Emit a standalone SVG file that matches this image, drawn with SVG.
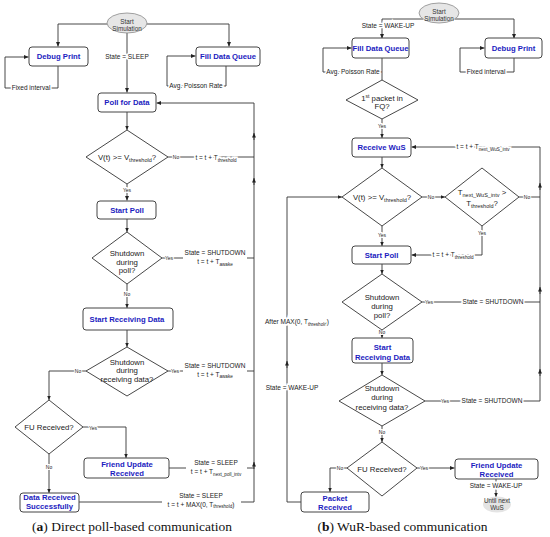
<svg xmlns="http://www.w3.org/2000/svg" width="550" height="537" viewBox="0 0 550 537">
<defs>
<marker id="ar" viewBox="0 0 8 8" refX="8" refY="4" markerWidth="4.5" markerHeight="4.5" orient="auto" markerUnits="userSpaceOnUse"><path d="M0,0.5 L8,4 L0,7.5 Z" fill="#222"/></marker>
<style>
.box{fill:#fff;stroke:#444;stroke-width:1}
.dia{fill:#fff;stroke:#333;stroke-width:0.9}
.ell{fill:#e6e6e6;stroke:#8a8a8a;stroke-width:0.8}
.e{fill:none;stroke:#333;stroke-width:0.9}
.ea{fill:none;stroke:#333;stroke-width:0.9;marker-end:url(#ar)}
text{font-family:"Liberation Sans",Arial,sans-serif}
.nt{font-size:7.7px;font-weight:bold;fill:#1c1cc0;text-anchor:middle}
.dt{font-size:7.8px;fill:#222;text-anchor:middle}
.lb{font-size:6.5px;fill:#222;text-anchor:middle}
.bg{stroke:#fff;stroke-width:3;paint-order:stroke}
.yn{font-size:5px;fill:#222;text-anchor:middle;stroke:#fff;stroke-width:2;paint-order:stroke}
.st{font-size:6.3px;fill:#333;text-anchor:middle}
.cap{font-family:"Liberation Serif","Times New Roman",serif;font-size:13.5px;fill:#111;text-anchor:middle}
.wb{fill:#fff}
</style>
</defs>
<g id="connectors">
<!-- (a) -->
<path class="ea" d="M107,24 H58 V46.5"/>
<path class="ea" d="M147,24 H229 V46.5"/>
<path class="ea" d="M127,33 V92.5"/>
<path class="ea" d="M58,66 V88 H5 V57 H28.5"/>
<path class="ea" d="M226,66 V86 H167 V56 H195.5"/>
<path class="ea" d="M127,112 V130"/>
<path class="e" d="M168,157 H254"/>
<path class="ea" d="M127,184 V200.5"/>
<path class="ea" d="M127,219 V232"/>
<path class="e" d="M162,258 H254"/>
<path class="ea" d="M127,284 V308"/>
<path class="ea" d="M127,330 V347"/>
<path class="e" d="M168,371 H254"/>
<path class="ea" d="M86,371 H49 V400"/>
<path class="ea" d="M83,427 H126 V458"/>
<path class="ea" d="M49,454 V493"/>
<path class="e" d="M169,468 H254"/>
<path class="ea" d="M79,502 H254 V103 H156.5"/>
<path class="ea" d="M254,140 V133"/>
<path class="ea" d="M254,185 V178"/>
<path class="ea" d="M254,469 V462"/>
<!-- (b) -->
<path class="ea" d="M423,19 H382 V38.5"/>
<path class="ea" d="M455,19 H514 V38.5"/>
<path class="ea" d="M514,58 V72 H460 V48 H484.5"/>
<path class="e" d="M382,58 V80"/>
<path class="ea" d="M382,72 H323 V48 H351.5"/>
<path class="ea" d="M382,119 V138"/>
<path class="ea" d="M540,401 V147 H411.5"/>
<path class="ea" d="M540,190 V183"/>
<path class="ea" d="M540,294 V287"/>
<path class="ea" d="M540,376 V369"/>
<path class="ea" d="M382,157 V168"/>
<path class="ea" d="M422,197 H445"/>
<path class="e" d="M519,197 H540"/>
<path class="ea" d="M482,226 V255 H411.5"/>
<path class="ea" d="M382,226 V246"/>
<path class="ea" d="M382,264 V274"/>
<path class="e" d="M422,302 H540"/>
<path class="ea" d="M382,330 V338"/>
<path class="ea" d="M382,363 V375"/>
<path class="e" d="M425,401 H540"/>
<path class="ea" d="M382,426 V442"/>
<path class="ea" d="M417,468 H454.5"/>
<path class="ea" d="M347,468 H330 V492"/>
<path class="ea" d="M301,502 H287 V197 H342"/>
<path class="ea" d="M287,368 V361"/>
<path class="ea" d="M496,479 V497"/>
<!-- labels (a) -->
<text class="lb bg" x="127" y="59.3">State = SLEEP</text>
<text class="lb bg" x="31" y="90.3">Fixed interval</text>
<text class="lb bg" x="196" y="88.3">Avg. Poisson Rate</text>
<text class="yn" x="176" y="158.8">No</text>
<text class="lb bg" x="216" y="160.3">t = t + T<tspan font-size="4.6" dy="1.5">threshold</tspan></text>
<text class="yn" x="127" y="191.8">Yes</text>
<text class="yn" x="169" y="259.8">Yes</text>
<rect class="wb" x="183" y="248" width="64" height="19"/>
<text class="lb" x="215" y="255.3">State = SHUTDOWN</text>
<text class="lb" x="215" y="264.3">t = t + T<tspan font-size="4.6" dy="1.5">awake</tspan></text>
<text class="yn" x="127" y="295.8">No</text>
<text class="yn" x="175" y="372.8">Yes</text>
<rect class="wb" x="183" y="361" width="64" height="19"/>
<text class="lb" x="215" y="368.3">State = SHUTDOWN</text>
<text class="lb" x="215" y="376.8">t = t + T<tspan font-size="4.6" dy="1.5">awake</tspan></text>
<text class="yn" x="78" y="372.8">No</text>
<text class="yn" x="93" y="429.8">Yes</text>
<text class="yn" x="49" y="468.8">No</text>
<rect class="wb" x="186" y="458" width="61" height="19"/>
<text class="lb" x="216" y="465.3">State = SLEEP</text>
<text class="lb" x="216" y="474.3">t = t + T<tspan font-size="4.6" dy="1.5">next_poll_intv</tspan></text>
<rect class="wb" x="162" y="491" width="79" height="18"/>
<text class="lb" x="201" y="498.3">State = SLEEP</text>
<text class="lb" x="201" y="506.5">t = t + MAX(0, T<tspan font-size="4.6" dy="1.5">threshold</tspan><tspan dy="-1.5">)</tspan></text>
<!-- labels (b) -->
<text class="lb bg" x="388" y="28.3">State = WAKE-UP</text>
<text class="lb bg" x="353" y="74.3">Avg. Poisson Rate</text>
<text class="lb bg" x="486" y="74.3">Fixed interval</text>
<text class="yn" x="382" y="127.8">Yes</text>
<text class="lb bg" x="483" y="149.3">t = t + T<tspan font-size="4.6" dy="1.5">next_WuS_intv</tspan></text>
<text class="yn" x="431" y="198.8">No</text>
<text class="yn" x="527" y="198.8">No</text>
<text class="yn" x="482" y="234.8">Yes</text>
<text class="lb bg" x="453" y="257.3">t = t + T<tspan font-size="4.6" dy="1.5">threshold</tspan></text>
<text class="yn" x="382" y="236.8">Yes</text>
<text class="yn" x="429" y="303.8">Yes</text>
<text class="lb bg" x="493" y="304.3">State = SHUTDOWN</text>
<text class="yn" x="382" y="333.8">No</text>
<text class="yn" x="445" y="402.8">Yes</text>
<text class="lb bg" x="492" y="403.3">State = SHUTDOWN</text>
<text class="yn" x="382" y="433.8">No</text>
<text class="yn" x="424" y="469.8">Yes</text>
<text class="yn" x="340" y="469.8">No</text>
<text class="lb bg" x="297" y="324.3">After MAX(0, T<tspan font-size="4.6" dy="1.5">threshold</tspan><tspan dy="-1.5">)</tspan></text>
<text class="lb bg" x="292" y="390.3">State = WAKE-UP</text>
<text class="lb bg" x="496" y="488.3">State = WAKE-UP</text>
</g>
<!-- (a) nodes -->
<g id="a-start"><ellipse class="ell" cx="127" cy="23" rx="20" ry="10"/><text class="st" x="127" y="23.6">Start</text><text class="st" x="127" y="31.4">Simulation</text></g>
<g id="a-debug"><rect class="box" x="29" y="47" width="59" height="19" rx="3"/><text class="nt" x="58.5" y="59.2">Debug Print</text></g>
<g id="a-fill"><rect class="box" x="196" y="47" width="64" height="19" rx="3"/><text class="nt" x="228" y="59.2">Fill Data Queue</text></g>
<g id="a-poll"><rect class="box" x="98" y="93" width="58" height="19" rx="3"/><text class="nt" x="127" y="105.2">Poll for Data</text></g>
<g id="a-vcheck"><polygon class="dia" points="127,130 168,157 127,184 86,157"/><text class="dt" x="127" y="160">V(t) &gt;= V<tspan font-size="5.5" dy="2">threshold</tspan><tspan dy="-2">?</tspan></text></g>
<g id="a-startpoll"><rect class="box" x="97" y="201" width="59" height="18" rx="3"/><text class="nt" x="127" y="212.7">Start Poll</text></g>
<g id="a-sdpoll"><polygon class="dia" points="127,232 162,258 127,284 92,258"/><text class="dt" x="127" y="256.2">Shutdown</text><text class="dt" x="127" y="264.7">during</text><text class="dt" x="127" y="273.2">poll?</text></g>
<g id="a-recv"><rect class="box" x="83" y="308" width="90" height="22" rx="3"/><text class="nt" x="127" y="321.7">Start Receiving Data</text></g>
<g id="a-sdrecv"><polygon class="dia" points="127,347 168,371 127,396 86,371"/><text class="dt" x="127" y="364.7">Shutdown</text><text class="dt" x="127" y="373.2">during</text><text class="dt" x="127" y="381.7">receiving data?</text></g>
<g id="a-fu"><polygon class="dia" points="49,400 83,427 49,454 15,427"/><text class="dt" x="49" y="429.7">FU Received?</text></g>
<g id="a-fur"><rect class="box" x="84" y="458" width="85" height="20" rx="3"/><text class="nt" x="127" y="466.7">Friend Update</text><text class="nt" x="127" y="475.7">Received</text></g>
<g id="a-drs"><rect class="box" x="20" y="493" width="59" height="19" rx="3"/><text class="nt" x="49.5" y="500.4">Data Received</text><text class="nt" x="49.5" y="509.4">Successfully</text></g>
<!-- (b) nodes -->
<g id="b-start"><ellipse class="ell" cx="439" cy="13" rx="20" ry="10"/><text class="st" x="439" y="13.6">Start</text><text class="st" x="439" y="21.4">Simulation</text></g>
<g id="b-fill"><rect class="box" x="352" y="38" width="57" height="20" rx="3"/><text class="nt" x="380.5" y="50.7">Fill Data Queue</text></g>
<g id="b-debug"><rect class="box" x="485" y="38" width="57" height="20" rx="3"/><text class="nt" x="513.5" y="50.7">Debug Print</text></g>
<g id="b-first"><polygon class="dia" points="382,80 418,100 382,119 346,100"/><text class="dt" x="382" y="100.5">1<tspan font-size="5" dy="-3">st</tspan><tspan dy="3"> packet in</tspan></text><text class="dt" x="382" y="109.2">FQ?</text></g>
<g id="b-wus"><rect class="box" x="352" y="138" width="59" height="19" rx="3"/><text class="nt" x="381.5" y="150.2">Receive WuS</text></g>
<g id="b-vcheck"><polygon class="dia" points="382,168 422,197 382,226 342,197"/><text class="dt" x="382" y="199.5">V(t) &gt;= V<tspan font-size="5.5" dy="2">threshold</tspan><tspan dy="-2">?</tspan></text></g>
<g id="b-tcheck"><polygon class="dia" points="482,168 519,197 482,226 445,197"/><text class="dt" x="482" y="195">T<tspan font-size="5.5" dy="2">next_WuS_intv</tspan><tspan dy="-2"> &gt;</tspan></text><text class="dt" x="482" y="205.5">T<tspan font-size="5.5" dy="2">threshold</tspan><tspan dy="-2">?</tspan></text></g>
<g id="b-startpoll"><rect class="box" x="352" y="246" width="59" height="18" rx="3"/><text class="nt" x="381.5" y="257.7">Start Poll</text></g>
<g id="b-sdpoll"><polygon class="dia" points="382,274 422,302 382,330 342,302"/><text class="dt" x="382" y="299.7">Shutdown</text><text class="dt" x="382" y="308.7">during</text><text class="dt" x="382" y="317.7">poll?</text></g>
<g id="b-recv"><rect class="box" x="352" y="338" width="61" height="25" rx="3"/><text class="nt" x="382.5" y="349.7">Start</text><text class="nt" x="382.5" y="359.7">Receiving Data</text></g>
<g id="b-sdrecv"><polygon class="dia" points="382,375 425,401 382,426 339,401"/><text class="dt" x="382" y="390.7">Shutdown</text><text class="dt" x="382" y="400.2">during</text><text class="dt" x="382" y="409.7">receiving data?</text></g>
<g id="b-fu"><polygon class="dia" points="382,442 417,468 382,496 347,468"/><text class="dt" x="382" y="471.5">FU Received?</text></g>
<g id="b-packet"><rect class="box" x="301" y="492" width="68" height="20" rx="3"/><text class="nt" x="335" y="500.7">Packet</text><text class="nt" x="335" y="509.7">Received</text></g>
<g id="b-fur"><rect class="box" x="455" y="459" width="83" height="20" rx="3"/><text class="nt" x="496.5" y="467.7">Friend Update</text><text class="nt" x="496.5" y="476.7">Received</text></g>
<g id="b-until"><ellipse cx="497" cy="504.5" rx="14" ry="8" fill="#e4e4e4"/><text class="st" x="497" y="502.8" font-size="5px">Until next</text><text class="st" x="497" y="509.5" font-size="5px">WuS</text></g>
<!-- captions -->
<text class="cap" x="132" y="531">(<tspan font-weight="bold">a</tspan>) Direct poll-based communication</text>
<text class="cap" x="402.5" y="531">(<tspan font-weight="bold">b</tspan>) WuR-based communication</text>
</svg>
